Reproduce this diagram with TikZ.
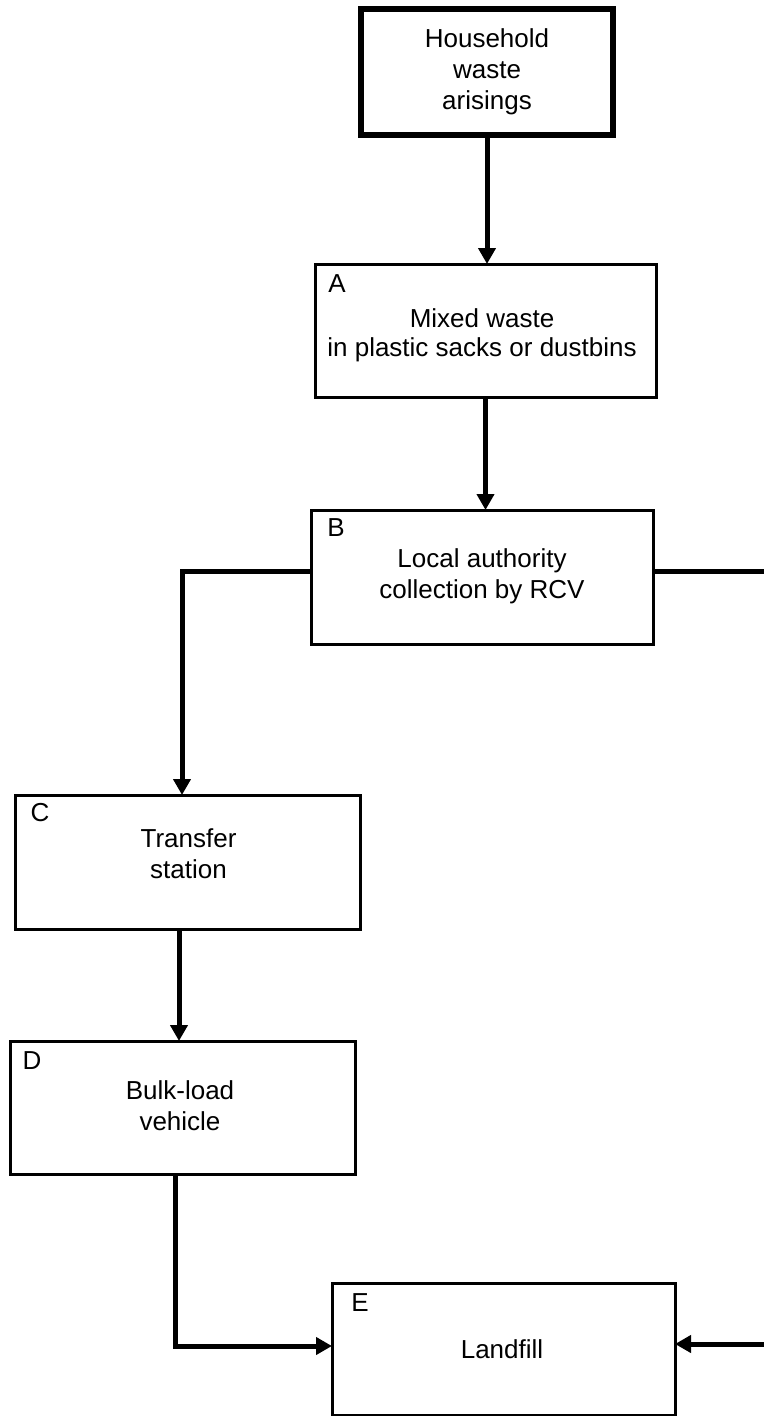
\documentclass[tikz,border=0pt]{standalone}
\usepackage{fontspec}
\setmainfont{Liberation Sans}
\usetikzlibrary{arrows.meta}
\begin{document}
\begin{tikzpicture}[x=1pt,y=-1pt,
  box/.style={draw=black, line width=3pt, fill=white, inner sep=0pt, outer sep=0pt},
  headbox/.style={box, line width=5.5pt},
  txt/.style={align=center, inner sep=0pt, font=\fontsize{26pt}{31pt}\selectfont},
  tag/.style={inner sep=0pt, font=\fontsize{26pt}{31pt}\selectfont},
  conn/.style={line width=5pt, line join=miter},
  arr/.style={conn, -{Triangle[length=16pt,width=17pt]}}]
\useasboundingbox (0,0) rectangle (763,1416);
\fill[white] (0,0) rectangle (763,1416);

% boxes
\node[headbox, minimum width=252pt, minimum height=126pt] (top) at (487,72) {};
\node[box, minimum width=341pt, minimum height=133pt] (A) at (485.5,330.5) {};
\node[box, minimum width=342pt, minimum height=134pt] (B) at (482,577) {};
\node[box, minimum width=345pt, minimum height=134pt] (C) at (187.5,862) {};
\node[box, minimum width=345pt, minimum height=133pt] (D) at (182.5,1107.5) {};
\node[box, minimum width=343pt, minimum height=132pt] (E) at (503.5,1349) {};

% box texts
\node[txt] (toptxt) at (487,72) {Household\\waste\\arisings};
\node[txt, font=\fontsize{26pt}{29pt}\selectfont] (Atxt) at (482,335.5) {Mixed waste\\in plastic sacks or dustbins};
\node[txt] (Btxt) at (482,576) {Local authority\\collection by RCV};
\node[txt] (Ctxt) at (188.5,854) {Transfer\\station};
\node[txt] (Dtxt) at (180,1106) {Bulk-load\\vehicle};
\node[txt] (Etxt) at (502,1349) {Landfill};

% corner letters
\node[tag] (Atag) at (337,284) {A};
\node[tag] (Btag) at (336,528) {B};
\node[tag] (Ctag) at (40,813) {C};
\node[tag] (Dtag) at (32,1061) {D};
\node[tag] (Etag) at (360,1303) {E};

% bends and free ends of connectors
\coordinate (bc) at (182,571);
\coordinate (cd) at (179,0);
\coordinate (de) at (175,1346);
\coordinate (br) at (766,571);
\coordinate (er) at (766,1344);

% connectors
\draw[arr] (top.south) -- (top.south |- A.north);
\draw[arr] (A.south) -- (A.south |- B.north);
\draw[arr] (B.west |- bc) -- (bc) -- (bc |- C.north);
\draw[arr] (C.south -| cd) -- (cd |- D.north);
\draw[arr] (D.south -| de) -- (de) -- (E.west |- de);
\draw[conn] (B.east |- br) -- (br);
\draw[arr] (er) -- (E.east |- er);
\end{tikzpicture}
\end{document}
